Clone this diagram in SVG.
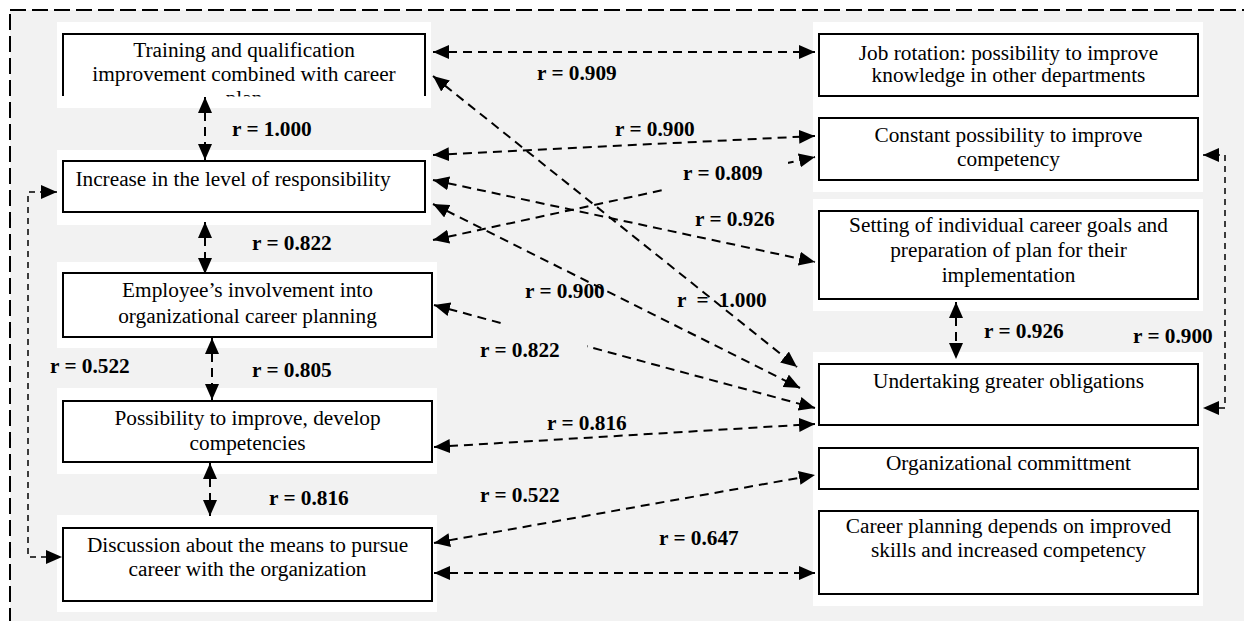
<svg xmlns="http://www.w3.org/2000/svg" width="1244" height="621" viewBox="0 0 1244 621">
<style>
.frame{fill:#f2f2f2;stroke:#000;stroke-width:2;stroke-dasharray:16,6}
.bg{fill:#fff}
.box{fill:#fff;stroke:#000;stroke-width:2}
.edge{fill:none;stroke:#000;stroke-width:2}
.t{font-family:"Liberation Serif","Times New Roman",serif;font-size:21.3px;fill:#000;text-anchor:middle}
.lbl{font-family:"Liberation Serif","Times New Roman",serif;font-size:21.3px;font-weight:bold;fill:#000}
.c{fill:none;stroke:#000;stroke-width:2;stroke-dasharray:9,6;marker-start:url(#ah);marker-end:url(#ah)}
.cl{fill:none;stroke:#000;stroke-width:1.5;stroke-dasharray:6,5;marker-start:url(#ah);marker-end:url(#ah)}
.gap{fill:#f2f2f2}
</style>
<defs>
<marker id="ah" markerUnits="userSpaceOnUse" markerWidth="16" markerHeight="14" refX="16" refY="7" orient="auto-start-reverse" viewBox="0 0 16 14">
<path d="M0,0 L16,7 L0,14 z" fill="#000"/>
</marker>
<clipPath id="clip1"><rect x="57" y="22" width="374" height="74.5"/></clipPath>
</defs>

<rect class="frame" x="10" y="10" width="1262" height="640"/>

<!-- white backgrounds -->
<rect class="bg" x="57" y="22" width="374" height="86"/>
<rect class="bg" x="57" y="150" width="374" height="75"/>
<rect class="bg" x="57" y="262" width="380" height="86"/>
<rect class="bg" x="57" y="388" width="380" height="86"/>
<rect class="bg" x="57" y="515" width="380" height="97"/>
<rect class="bg" x="813" y="22" width="390" height="170"/>
<rect class="bg" x="813" y="199" width="390" height="112"/>
<rect class="bg" x="813" y="352" width="390" height="146"/>
<rect class="bg" x="813" y="498" width="390" height="108"/>

<!-- left column nodes -->
<g id="n-training">
<path class="edge" d="M63,96 V34 H425 V96"/>
<g clip-path="url(#clip1)">
<text class="t" x="244" y="57">Training and qualification</text>
<text class="t" x="244" y="81">improvement combined with career</text>
<text class="t" x="244" y="105">plan</text>
</g>
</g>
<g id="n-increase">
<rect class="box" x="63" y="161" width="362" height="51"/>
<text class="t" x="233" y="186">Increase in the level of responsibility</text>
</g>
<g id="n-involvement">
<rect class="box" x="63" y="273" width="369" height="64"/>
<text class="t" x="247.5" y="297">Employee’s involvement into</text>
<text class="t" x="247.5" y="323">organizational career planning</text>
</g>
<g id="n-possibility">
<rect class="box" x="63" y="401" width="369" height="61"/>
<text class="t" x="247.5" y="425">Possibility to improve, develop</text>
<text class="t" x="247.5" y="450">competencies</text>
</g>
<g id="n-discussion">
<rect class="box" x="63" y="528" width="369" height="73"/>
<text class="t" x="247.5" y="552">Discussion about the means to pursue</text>
<text class="t" x="247.5" y="576">career with the organization</text>
</g>

<!-- right column nodes -->
<g id="n-rotation">
<rect class="box" x="819" y="34" width="379" height="62"/>
<text class="t" x="1008.5" y="60">Job rotation: possibility to improve</text>
<text class="t" x="1008.5" y="82">knowledge in other departments</text>
</g>
<g id="n-constant">
<rect class="box" x="819" y="118" width="379" height="62"/>
<text class="t" x="1008.5" y="142">Constant possibility to improve</text>
<text class="t" x="1008.5" y="166">competency</text>
</g>
<g id="n-setting">
<rect class="box" x="819" y="211" width="379" height="88"/>
<text class="t" x="1008.5" y="232">Setting of individual career goals and</text>
<text class="t" x="1008.5" y="257">preparation of plan for their</text>
<text class="t" x="1008.5" y="282">implementation</text>
</g>
<g id="n-obligations">
<rect class="box" x="819" y="364" width="379" height="61"/>
<text class="t" x="1008.5" y="388">Undertaking greater obligations</text>
</g>
<g id="n-commitment">
<rect class="box" x="819" y="448" width="379" height="41"/>
<text class="t" x="1008.5" y="470">Organizational committment</text>
</g>
<g id="n-careerplanning">
<rect class="box" x="819" y="511" width="379" height="83"/>
<text class="t" x="1008.5" y="533">Career planning depends on improved</text>
<text class="t" x="1008.5" y="557">skills and increased competency</text>
</g>

<!-- labels crossed by lines -->
<g id="labels-under">
<text class="lbl" x="525" y="298">r = 0.900</text>
<text class="lbl" x="677" y="307" word-spacing="5">r = 1.000</text>
</g>

<g id="connectors">
<line class="c" x1="433" y1="52" x2="815" y2="52"/>
<line class="c" x1="433" y1="76" x2="797" y2="367"/>
<line class="c" x1="433" y1="155" x2="815" y2="136"/>
<line class="c" x1="433" y1="240" x2="815" y2="157"/>
<line class="c" x1="433" y1="180" x2="815" y2="262"/>
<line class="c" x1="433" y1="204" x2="800" y2="388"/>
<line class="c" x1="434" y1="305" x2="815" y2="408"/>
<line class="c" x1="434" y1="447" x2="815" y2="424"/>
<line class="c" x1="434" y1="543" x2="815" y2="475"/>
<line class="c" x1="434" y1="573" x2="815" y2="573"/>
<line class="c" x1="205" y1="97" x2="205" y2="160"/>
<line class="c" x1="205" y1="222" x2="205" y2="274"/>
<line class="c" x1="212" y1="338" x2="212" y2="400"/>
<line class="c" x1="210" y1="463" x2="210" y2="516"/>
<line class="c" x1="956" y1="302" x2="956" y2="359"/>
<path class="cl" d="M57,192 H28 V557 H62"/>
<path class="cl" d="M1203,155 H1225 V408 H1203"/>
</g>

<!-- gaps behind labels -->
<rect class="gap" x="662" y="160" width="126" height="34"/>
<rect class="gap" x="506" y="318" width="81" height="34"/>

<g id="labels">
<text class="lbl" x="537" y="80">r = 0.909</text>
<text class="lbl" x="232" y="136">r = 1.000</text>
<text class="lbl" x="615" y="136">r = 0.900</text>
<text class="lbl" x="683" y="180">r = 0.809</text>
<text class="lbl" x="695" y="226">r = 0.926</text>
<text class="lbl" x="252" y="250">r = 0.822</text>
<text class="lbl" x="480" y="357">r = 0.822</text>
<text class="lbl" x="50" y="373">r = 0.522</text>
<text class="lbl" x="252" y="377">r = 0.805</text>
<text class="lbl" x="984" y="338">r = 0.926</text>
<text class="lbl" x="1133" y="343">r = 0.900</text>
<text class="lbl" x="547" y="430">r = 0.816</text>
<text class="lbl" x="269" y="505">r = 0.816</text>
<text class="lbl" x="480" y="502">r = 0.522</text>
<text class="lbl" x="659" y="545">r = 0.647</text>
</g>
</svg>
